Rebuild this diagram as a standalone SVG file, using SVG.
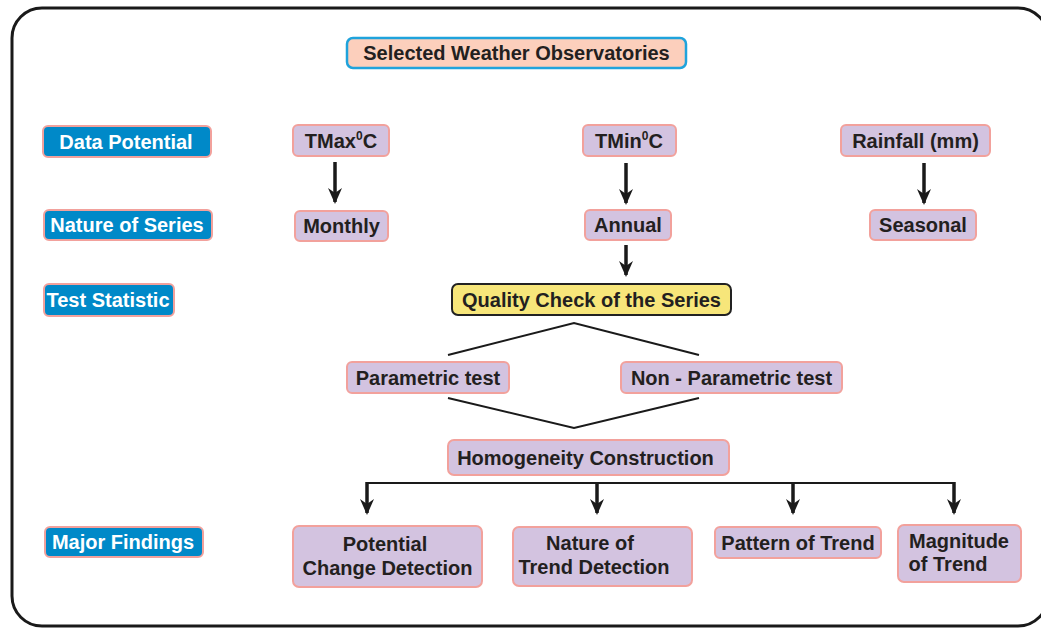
<svg xmlns="http://www.w3.org/2000/svg" width="1041" height="628" viewBox="0 0 1041 628">
<style>
  text { font-family: "Liberation Sans", Arial, sans-serif; font-weight: bold; font-size: 20px; fill: #231F20; text-anchor: middle; }
  .lbl rect { fill: #0089C8; stroke: #F2A19C; stroke-width: 2; }
  .lbl text { fill: #FFFFFF; }
  .nd rect { fill: #D3C3E0; stroke: #F2A19C; stroke-width: 2; }
  .conn line, .conn polyline { stroke: #1A1A1A; stroke-width: 2; fill: none; }
  .conn .arr { stroke-width: 3.5; }
</style>
<defs>
  <marker id="ah" markerUnits="userSpaceOnUse" markerWidth="16" markerHeight="16" refX="14" refY="8" orient="auto" viewBox="0 0 16 16">
    <path d="M0,1 L16,8 L0,15 L5,8 Z" fill="#1A1A1A"/>
  </marker>
</defs>
<rect x="0" y="0" width="1041" height="628" fill="#FFFFFF"/>
<rect id="frame" x="12" y="8" width="1036" height="618" rx="30" fill="none" stroke="#1A1A1A" stroke-width="3"/>

<g id="selected">
  <rect x="347" y="38" width="339" height="30" rx="6" fill="#FCCFBC" stroke="#1FA3DC" stroke-width="2.5"/>
  <text x="516.5" y="60">Selected Weather Observatories</text>
</g>

<g id="data-potential" class="lbl"><rect x="43" y="126" width="168" height="31" rx="5"/><text x="126" y="148.5">Data Potential</text></g>
<g id="nature-series" class="lbl"><rect x="44" y="210" width="168" height="30" rx="5"/><text x="127" y="232">Nature of Series</text></g>
<g id="test-statistic" class="lbl"><rect x="44" y="284" width="130" height="32" rx="5"/><text x="108" y="307">Test Statistic</text></g>
<g id="major-findings" class="lbl"><rect x="45" y="527" width="158" height="30" rx="5"/><text x="123" y="549">Major Findings</text></g>

<g id="tmax" class="nd"><rect x="293" y="125" width="96" height="31" rx="5"/><text x="341" y="147.5">TMax<tspan font-size="12" dy="-8">0</tspan><tspan dy="8">C</tspan></text></g>
<g id="tmin" class="nd"><rect x="583" y="125" width="93" height="31" rx="5"/><text x="629" y="147.5">TMin<tspan font-size="12" dy="-8">0</tspan><tspan dy="8">C</tspan></text></g>
<g id="rainfall" class="nd"><rect x="841" y="125" width="149" height="31" rx="5"/><text x="915.5" y="147.5">Rainfall (mm)</text></g>

<g id="monthly" class="nd"><rect x="295" y="211" width="93" height="30" rx="5"/><text x="341.5" y="233">Monthly</text></g>
<g id="annual" class="nd"><rect x="585" y="210" width="86" height="30" rx="5"/><text x="628" y="232">Annual</text></g>
<g id="seasonal" class="nd"><rect x="870" y="210" width="106" height="30" rx="5"/><text x="923" y="232">Seasonal</text></g>

<g id="quality"><rect x="452" y="284" width="279" height="31" rx="6" fill="#F7E67A" stroke="#222222" stroke-width="2"/><text x="591.5" y="306.5">Quality Check of the Series</text></g>

<g id="parametric" class="nd"><rect x="347" y="362" width="162" height="31" rx="5"/><text x="428" y="384.5">Parametric test</text></g>
<g id="nonparametric" class="nd"><rect x="621" y="362" width="221" height="31" rx="5"/><text x="731.5" y="384.5">Non - Parametric test</text></g>

<g id="homogeneity" class="nd"><rect x="448" y="440" width="281" height="35" rx="6"/><text x="585.5" y="464.5">Homogeneity Construction</text></g>

<g id="potential" class="nd"><rect x="293" y="526" width="189" height="61" rx="6"/><text x="385" y="551">Potential</text><text x="387.5" y="575">Change Detection</text></g>
<g id="nature-trend" class="nd"><rect x="513" y="527" width="179" height="59" rx="6"/><text x="590" y="550">Nature of</text><text x="594" y="574">Trend Detection</text></g>
<g id="pattern" class="nd"><rect x="715" y="527" width="166" height="31" rx="5"/><text x="798" y="549.5">Pattern of Trend</text></g>
<g id="magnitude" class="nd"><rect x="898" y="525" width="123" height="57" rx="6"/><text x="959" y="548">Magnitude</text><text x="948" y="571">of Trend</text></g>

<g id="connectors" class="conn">
  <line class="arr" x1="335" y1="162" x2="335" y2="202" marker-end="url(#ah)"/>
  <line class="arr" x1="626" y1="163" x2="626" y2="203" marker-end="url(#ah)"/>
  <line class="arr" x1="924" y1="163" x2="924" y2="203" marker-end="url(#ah)"/>
  <line class="arr" x1="626" y1="245" x2="626" y2="275" marker-end="url(#ah)"/>
  <polyline points="448,355 574,323 699,355"/>
  <polyline points="448,398 574,428 699,398"/>
  <polyline points="367,484 367,483 954,483 954,484" stroke-width="2.5"/>
  <line class="arr" x1="367" y1="482" x2="367" y2="513" marker-end="url(#ah)"/>
  <line class="arr" x1="597" y1="482" x2="597" y2="513" marker-end="url(#ah)"/>
  <line class="arr" x1="793" y1="482" x2="793" y2="513" marker-end="url(#ah)"/>
  <line class="arr" x1="954" y1="482" x2="954" y2="513" marker-end="url(#ah)"/>
</g>
</svg>
